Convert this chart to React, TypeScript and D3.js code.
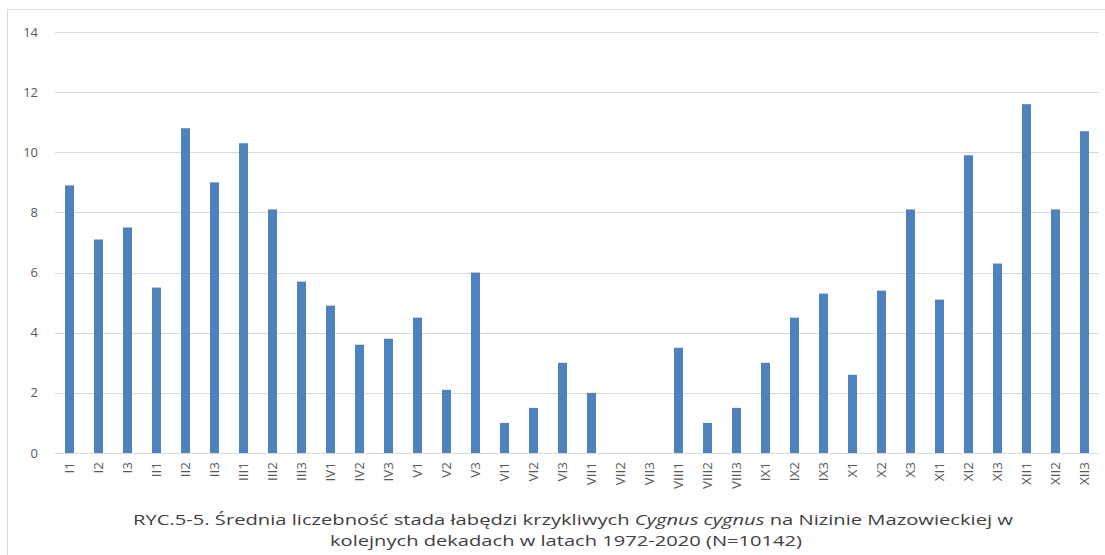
import { useEffect, useRef } from 'react';
import * as d3 from 'd3';

// dekady miesięcy
const categories = [
  'I1', 'I2', 'I3', 'II1', 'II2', 'II3', 'III1', 'III2', 'III3',
  'IV1', 'IV2', 'IV3', 'V1', 'V2', 'V3', 'VI1', 'VI2', 'VI3',
  'VII1', 'VII2', 'VII3', 'VIII1', 'VIII2', 'VIII3', 'IX1', 'IX2', 'IX3',
  'X1', 'X2', 'X3', 'XI1', 'XI2', 'XI3', 'XII1', 'XII2', 'XII3',
];
const values = [
  8.9, 7.1, 7.5, 5.5, 10.8, 9.0, 10.3, 8.1, 5.7,
  4.9, 3.6, 3.8, 4.5, 2.1, 6.0, 1.0, 1.5, 3.0,
  2.0, 0, 0, 3.5, 1.0, 1.5, 3.0, 4.5, 5.3,
  2.6, 5.4, 8.1, 5.1, 9.9, 6.3, 11.6, 8.1, 10.7,
];
const yTicks = [0, 2, 4, 6, 8, 10, 12, 14];

const App = () => {
  const svgRef = useRef<SVGSVGElement>(null);

  useEffect(() => {
    const W = 1105;
    const H = 555;
    const margin = { top: 32, right: 6, bottom: 102, left: 55 };
    const width = W - margin.left - margin.right;
    const height = H - margin.top - margin.bottom;

    const svg = d3.select(svgRef.current);
    svg.selectAll('*').remove();
    svg.attr('width', W).attr('height', H);

    svg.append('rect')
      .attr('width', W).attr('height', H).attr('fill', 'white');

    // ramka wykresu
    svg.append('rect')
      .attr('x', 7.5).attr('y', 9.5)
      .attr('width', 1110).attr('height', 560)
      .attr('fill', 'none')
      .attr('stroke', '#d9d9d9');

    const g = svg.append('g')
      .attr('transform', `translate(${margin.left},${margin.top})`);

    const x = d3.scaleBand()
      .domain(categories)
      .range([0, width])
      .paddingInner(0.69)
      .paddingOuter(0.345);

    const y = d3.scaleLinear()
      .domain([0, 14])
      .range([height, 0]);

    // linie siatki
    g.selectAll('.grid')
      .data(yTicks)
      .enter().append('line')
      .attr('class', 'grid')
      .attr('x1', 0)
      .attr('x2', width)
      .attr('y1', d => Math.round(y(d)) + 0.5)
      .attr('y2', d => Math.round(y(d)) + 0.5)
      .attr('stroke', '#d9d9d9')
      .attr('stroke-width', 1);

    // etykiety osi Y
    g.selectAll('.ylab')
      .data(yTicks)
      .enter().append('text')
      .attr('class', 'ylab')
      .attr('x', -17)
      .attr('y', d => y(d))
      .attr('dy', '0.35em')
      .attr('text-anchor', 'end')
      .style('font-family', 'Open Sans, sans-serif')
      .style('font-size', '13px')
      .style('fill', '#595959')
      .text(d => d);

    // słupki
    g.selectAll('.bar')
      .data(values)
      .enter().append('rect')
      .attr('class', 'bar')
      .attr('x', (d, i) => x(categories[i]) as number)
      .attr('y', d => y(d))
      .attr('width', x.bandwidth())
      .attr('height', d => height - y(d))
      .attr('fill', '#4f81bd');

    // etykiety osi X
    g.selectAll('.xlab')
      .data(categories)
      .enter().append('text')
      .attr('class', 'xlab')
      .attr('transform', d => `translate(${(x(d) as number) + x.bandwidth() / 2},${height + 9}) rotate(-90)`)
      .attr('dy', '0.35em')
      .attr('text-anchor', 'end')
      .style('font-family', 'Open Sans, sans-serif')
      .style('font-size', '13.5px')
      .style('fill', '#595959')
      .text(d => d);

    // podpis
    const cap = svg.append('g')
      .style('font-family', 'Open Sans, sans-serif')
      .style('font-size', '14.5px')
      .style('fill', '#404040')
      .style('white-space', 'pre');

    const line1 = cap.append('text')
      .attr('x', 573)
      .attr('y', 525)
      .attr('text-anchor', 'middle')
      .attr('textLength', 880)
      .attr('lengthAdjust', 'spacingAndGlyphs');
    line1.append('tspan').text('RYC.5-5. Średnia liczebność stada łabędzi krzykliwych ');
    line1.append('tspan').style('font-style', 'italic').text('Cygnus cygnus');
    line1.append('tspan').text(' na Nizinie Mazowieckiej w');

    cap.append('text')
      .attr('x', 566)
      .attr('y', 546)
      .attr('text-anchor', 'middle')
      .attr('textLength', 472)
      .attr('lengthAdjust', 'spacingAndGlyphs')
      .text('kolejnych dekadach w latach 1972-2020  (N=10142)');
  }, []);

  return (
    <div style={{ position: 'absolute', left: 0, top: 0 }}>
      <svg ref={svgRef} style={{ display: 'block' }}></svg>
    </div>
  );
};

export default App;
